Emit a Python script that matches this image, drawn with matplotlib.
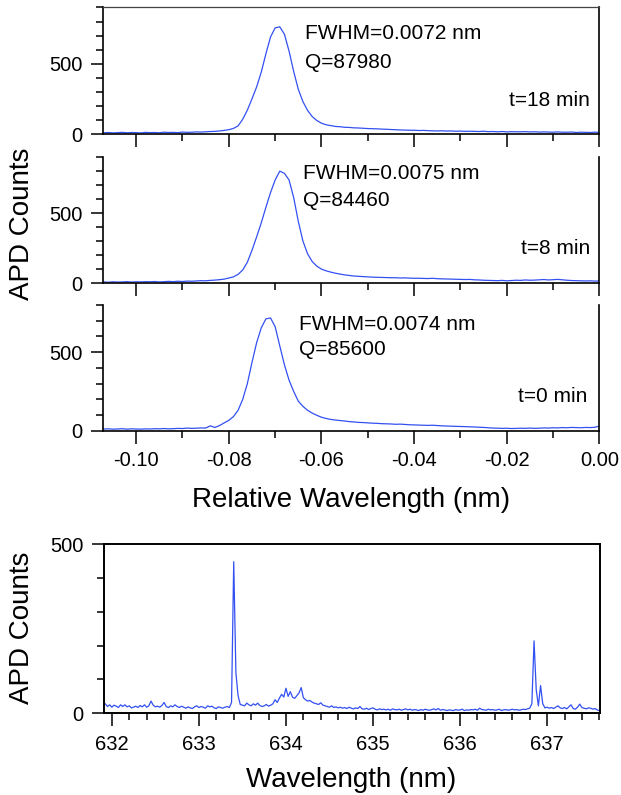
import numpy as np
import matplotlib
matplotlib.use("Agg")
import matplotlib.pyplot as plt
from matplotlib.ticker import MultipleLocator, FuncFormatter

plt.rcParams['font.family'] = ['Liberation Sans', 'DejaVu Sans']
plt.rcParams['axes.unicode_minus'] = False

# ---------------- data ----------------
# relative wavelength grid (nm), 1 pm sampling
rel_wl = np.round(np.linspace(-0.107, 0.0, 108), 3)

counts_18min = [
    9, 11, 8, 10, 12, 9, 11, 10, 8, 12,
    10, 11, 9, 13, 11, 12, 10, 14, 12, 13,
    15, 14, 16, 18, 19, 22, 26, 31, 40, 58,
    105, 170, 250, 335, 440, 570, 690, 755, 762, 710,
    590, 445, 318, 230, 168, 124, 96, 77, 66, 60,
    54, 52, 48, 47, 44, 43, 41, 39, 38, 37,
    35, 34, 32, 31, 29, 28, 27, 27, 25, 26,
    24, 23, 22, 23, 21, 22, 20, 21, 19, 20,
    19, 18, 20, 17, 18, 16, 18, 15, 17, 16,
    16, 17, 15, 16, 14, 15, 14, 13, 15, 13,
    13, 14, 11, 13, 12, 11, 13, 12,
]

counts_8min = [
    10, 8, 11, 9, 10, 12, 9, 11, 10, 12,
    11, 13, 10, 12, 14, 12, 15, 13, 16, 15,
    17, 19, 18, 21, 23, 26, 30, 38, 46, 64,
    95, 150, 235, 330, 430, 540, 645, 735, 798, 782,
    735, 610, 440, 300, 210, 155, 122, 101, 89, 80,
    72, 66, 60, 56, 52, 50, 48, 46, 44, 43,
    42, 41, 40, 40, 38, 39, 37, 36, 36, 35,
    34, 36, 33, 32, 31, 30, 29, 28, 27, 28,
    25, 24, 22, 21, 20, 19, 21, 18, 20, 22,
    21, 24, 22, 23, 25, 27, 24, 26, 28, 25,
    22, 20, 19, 18, 17, 18, 16, 17,
]

counts_0min = [
    11, 12, 10, 11, 13, 10, 12, 11, 10, 12,
    11, 13, 12, 14, 12, 13, 15, 14, 17, 15,
    16, 18, 17, 31, 21, 33, 50, 66, 90, 130,
    200, 300, 435, 560, 655, 712, 718, 662, 540, 420,
    322, 250, 188, 155, 130, 112, 98, 86, 78, 72,
    68, 65, 62, 58, 56, 53, 52, 50, 48, 47,
    45, 44, 43, 41, 42, 40, 38, 37, 36, 35,
    34, 35, 33, 31, 30, 29, 28, 27, 26, 25,
    24, 22, 21, 19, 17, 16, 15, 16, 14, 15,
    16, 15, 17, 15, 16, 18, 17, 19, 18, 20,
    19, 21, 20, 19, 21, 20, 22, 30,
]

panel_counts = [counts_18min, counts_8min, counts_0min]
panel_ymax = [900, 900, 800]
fwhm_labels = ["FWHM=0.0072 nm", "FWHM=0.0075 nm", "FWHM=0.0074 nm"]
q_labels = ["Q=87980", "Q=84460", "Q=85600"]
time_labels = ["t=18 min", "t=8 min", "t=0 min"]

# wide-range spectrum, 25 pm sampling
wl_nm = np.round(np.linspace(631.9, 637.6, 229), 3)
counts_wide = [
    22, 28, 20, 25, 18, 24, 21, 17, 25, 20,
    25, 19, 22, 16, 18, 21, 17, 23, 19, 25,
    18, 22, 36, 24, 19, 21, 18, 23, 32, 20,
    17, 22, 19, 25, 20, 17, 21, 18, 15, 19,
    16, 14, 19, 22, 17, 20, 18, 15, 22, 19,
    21, 16, 14, 19, 17, 15, 18, 20, 17, 32,
    448, 120, 52, 26, 24, 22, 30, 25, 22, 28,
    24, 30, 23, 20, 22, 26, 21, 24, 28, 40,
    32, 45, 56, 48, 74, 50, 64, 48, 44, 52,
    60, 76, 46, 40, 36, 38, 33, 30, 28, 26,
    31, 24, 22, 20, 18, 22, 17, 19, 16, 18,
    15, 17, 14, 18, 15, 13, 16, 14, 20, 13,
    12, 15, 11, 14, 16, 12, 10, 13, 11, 12,
    10, 12, 9, 13, 11, 10, 12, 9, 11, 13,
    10, 12, 9, 11, 10, 8, 11, 9, 12, 10,
    9, 11, 13, 10, 14, 9, 11, 10, 8, 10,
    9, 8, 11, 9, 10, 12, 8, 10, 9, 11,
    10, 12, 9, 15, 11, 10, 9, 12, 10, 11,
    9, 10, 12, 8, 10, 11, 9, 10, 12, 10,
    11, 9, 10, 12, 11, 13, 15, 28, 214, 70,
    22, 82, 28, 16, 18, 15, 17, 14, 18, 22,
    16, 14, 17, 13, 19, 25, 14, 12, 18, 27,
    17, 15, 13, 16, 15, 12, 14, 10, 8,
]

# ---------------- styling ----------------
LINE_COLOR = '#3350f2'
TICK_FS = 14.5
NOTE_FS = 15
LABEL_FS = 20

fig = plt.figure(figsize=(6.21, 7.95), dpi=100)

panel_rects = [
    [0.1663, 0.8314, 0.7990, 0.1592],
    [0.1663, 0.6436, 0.7990, 0.1592],
    [0.1663, 0.4582, 0.7990, 0.1581],
]

# (x, y) positions of the three annotation lines in data coordinates
fwhm_pos = [(-0.0636, 718), (-0.0640, 784), (-0.0649, 677)]
q_pos = [(-0.0636, 512), (-0.0640, 592), (-0.0649, 517)]
t_pos = [(-0.0020, 242), (-0.0020, 251), (-0.0025, 216)]


def two_decimals(v, _pos):
    if abs(v) < 1e-9:
        v = 0.0
    return f"{v:.2f}"


def style_axis(ax, spine_lw=1.2):
    for s in ax.spines.values():
        s.set_linewidth(spine_lw)
    ax.tick_params(which='major', direction='out', length=9, width=1.1,
                   labelsize=TICK_FS)
    ax.tick_params(which='minor', direction='out', length=4.8, width=1.1)
    ax.tick_params(axis='y', which='major', pad=6)
    ax.tick_params(right=False, top=False, which='both')


for k in range(3):
    ax = fig.add_axes(panel_rects[k])
    ax.plot(rel_wl, panel_counts[k], color=LINE_COLOR, lw=0.9)
    ax.set_xlim(-0.1071, 0.0)
    ax.set_ylim(0, panel_ymax[k])
    style_axis(ax)
    ax.spines['top'].set_visible(k == 0)
    if k == 0:
        ax.spines['top'].set_linewidth(0.9)
        ax.spines['top'].set_color('#444444')
    ax.xaxis.set_major_locator(MultipleLocator(0.02))
    ax.xaxis.set_minor_locator(MultipleLocator(0.01))
    ax.yaxis.set_major_locator(MultipleLocator(500))
    ax.yaxis.set_minor_locator(MultipleLocator(100))
    ax.xaxis.set_major_formatter(FuncFormatter(two_decimals))
    ax.tick_params(axis='x', which='major', pad=5.5)
    if k < 2:
        ax.tick_params(axis='x', labelbottom=False)
    ax.text(*fwhm_pos[k], fwhm_labels[k], fontsize=NOTE_FS,
            ha='left', va='center')
    ax.text(*q_pos[k], q_labels[k], fontsize=NOTE_FS,
            ha='left', va='center')
    ax.text(*t_pos[k], time_labels[k], fontsize=NOTE_FS,
            ha='right', va='center')

fig.text(351 / 621, 1 - 507 / 795, "Relative Wavelength (nm)",
         fontsize=LABEL_FS, ha='center', va='baseline')
fig.text(21.7 / 621, 0.718, "APD Counts", fontsize=LABEL_FS,
         rotation=90, ha='center', va='center')

# wide-range spectrum
axw = fig.add_axes([0.1675, 0.1028, 0.7990, 0.2127])
axw.plot(wl_nm, counts_wide, color=LINE_COLOR, lw=0.9)
axw.set_xlim(631.91, 637.61)
axw.set_ylim(0, 500)
style_axis(axw, spine_lw=1.4)
axw.xaxis.set_major_locator(MultipleLocator(1))
axw.xaxis.set_minor_locator(MultipleLocator(0.2))
axw.yaxis.set_major_locator(MultipleLocator(500))
axw.yaxis.set_minor_locator(MultipleLocator(100))
axw.xaxis.set_major_formatter(FuncFormatter(lambda v, _p: f"{v:.0f}"))
axw.tick_params(axis='x', which='major', pad=7)

fig.text(351 / 621, 1 - 787 / 795, "Wavelength (nm)",
         fontsize=LABEL_FS, ha='center', va='baseline')
fig.text(21.7 / 621, 0.21, "APD Counts", fontsize=LABEL_FS,
         rotation=90, ha='center', va='center')

fig.savefig("out.png", dpi=100)
